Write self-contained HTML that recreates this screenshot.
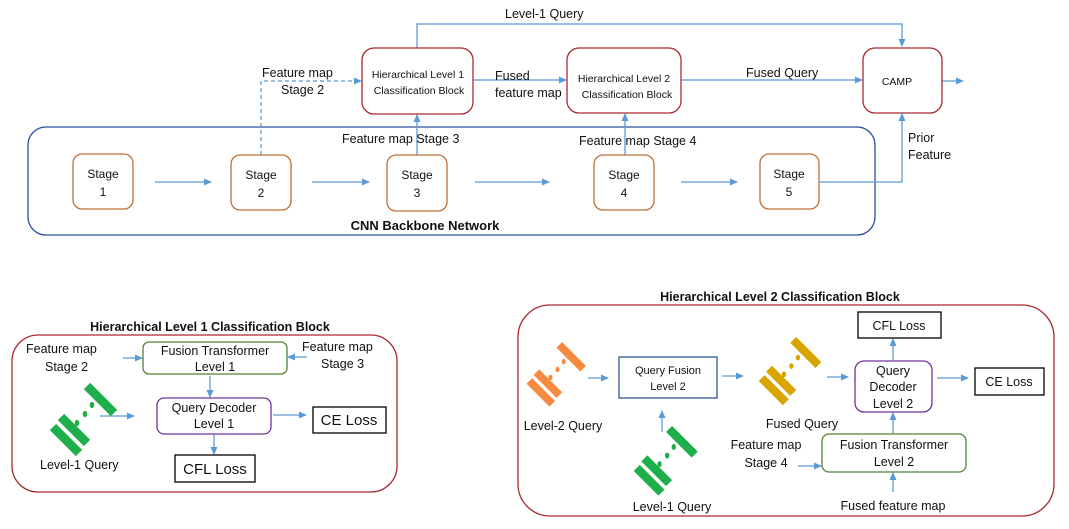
<!DOCTYPE html>
<html><head><meta charset="utf-8"><style>
html,body{margin:0;padding:0;background:#fff}
svg{display:block}
text{font-family:"Liberation Sans",sans-serif;fill:#111}
</style></head><body>
<svg width="1069" height="529" viewBox="0 0 1069 529" xmlns="http://www.w3.org/2000/svg">
<defs>
<marker id="a" markerWidth="8" markerHeight="8" refX="7" refY="4" orient="auto" markerUnits="userSpaceOnUse">
<path d="M0,0.5 L8,4 L0,7.5 z" fill="#5B9BD5"/></marker>
<g id="ic">
<line x1="39" y1="1" x2="66" y2="28" stroke-width="9"/>
<line x1="13" y1="32" x2="39" y2="58" stroke-width="9"/>
<line x1="5" y1="42" x2="31" y2="68" stroke-width="9"/>
<ellipse cx="44" cy="20" rx="1.8" ry="2.6"/>
<ellipse cx="37" cy="29" rx="1.8" ry="2.6"/>
<ellipse cx="29" cy="38" rx="1.8" ry="2.6"/>
</g>
</defs>
<g fill="#fff" stroke-width="1.3">
<rect x="28" y="127" width="847" height="108" rx="18" stroke="#2F4F9F"/>
<rect x="12" y="335" width="385" height="157" rx="26" stroke="#A52A32"/>
<rect x="518" y="305" width="536" height="211" rx="32" stroke="#A52A32"/>
</g>
<g fill="none" stroke="#5B9BD5" stroke-width="1.3">
<polyline points="417,48 417,24 902,24 902,46" marker-end="url(#a)"/>
<line x1="473" y1="80" x2="566" y2="80" marker-end="url(#a)"/>
<line x1="681" y1="80" x2="862" y2="80" marker-end="url(#a)"/>
<line x1="942" y1="81" x2="963" y2="81" marker-end="url(#a)"/>
<polyline points="261,155 261,81 361,81" stroke-dasharray="4,3" marker-end="url(#a)"/>
<line x1="417" y1="155" x2="417" y2="115" marker-end="url(#a)"/>
<line x1="625" y1="155" x2="625" y2="114" marker-end="url(#a)"/>
<polyline points="819,182 902,182 902,114" marker-end="url(#a)"/>
<line x1="155" y1="182" x2="211" y2="182" marker-end="url(#a)"/>
<line x1="312" y1="182" x2="369" y2="182" marker-end="url(#a)"/>
<line x1="475" y1="182" x2="549" y2="182" marker-end="url(#a)"/>
<line x1="681" y1="182" x2="737" y2="182" marker-end="url(#a)"/>
<line x1="123" y1="358" x2="142" y2="358" marker-end="url(#a)"/>
<line x1="307" y1="357" x2="288" y2="357" marker-end="url(#a)"/>
<line x1="210" y1="376" x2="210" y2="397" marker-end="url(#a)"/>
<line x1="100" y1="416" x2="134" y2="416" marker-end="url(#a)"/>
<line x1="273" y1="415" x2="306" y2="415" marker-end="url(#a)"/>
<line x1="214" y1="435" x2="214" y2="454" marker-end="url(#a)"/>
<line x1="588" y1="378" x2="608" y2="378" marker-end="url(#a)"/>
<line x1="722" y1="376" x2="743" y2="376" marker-end="url(#a)"/>
<line x1="827" y1="377" x2="848" y2="377" marker-end="url(#a)"/>
<line x1="937" y1="378" x2="968" y2="378" marker-end="url(#a)"/>
<line x1="893" y1="360" x2="893" y2="339" marker-end="url(#a)"/>
<line x1="893" y1="434" x2="893" y2="413" marker-end="url(#a)"/>
<line x1="893" y1="492" x2="893" y2="473" marker-end="url(#a)"/>
<line x1="798" y1="466" x2="821" y2="466" marker-end="url(#a)"/>
<line x1="662" y1="432" x2="662" y2="411" marker-end="url(#a)"/>
</g>
<g fill="#fff" stroke-width="1.3">
<rect x="362" y="48" width="111" height="66" rx="12" stroke="#A52A32"/>
<rect x="567" y="48" width="114" height="65" rx="12" stroke="#A52A32"/>
<rect x="863" y="48" width="79" height="65" rx="12" stroke="#A52A32"/>
<g stroke="#C07038">
<rect x="73" y="154" width="60" height="55" rx="9"/>
<rect x="231" y="155" width="60" height="55" rx="9"/>
<rect x="387" y="155" width="60" height="56" rx="9"/>
<rect x="594" y="155" width="60" height="55" rx="9"/>
<rect x="760" y="154" width="59" height="55" rx="9"/>
</g>
<rect x="143" y="342" width="144" height="32" rx="6" stroke="#548235"/>
<rect x="157" y="398" width="114" height="36" rx="7" stroke="#7030A0"/>
<rect x="313" y="407" width="73" height="26" stroke="#000"/>
<rect x="175" y="455" width="80" height="27" stroke="#000"/>
<rect x="619" y="357" width="98" height="41" stroke="#2F5597"/>
<rect x="855" y="361" width="77" height="51" rx="9" stroke="#7030A0"/>
<rect x="858" y="312" width="83" height="26" stroke="#000"/>
<rect x="975" y="368" width="69" height="27" stroke="#000"/>
<rect x="822" y="434" width="144" height="38" rx="7" stroke="#548235"/>
</g>
<use href="#ic" transform="translate(48,385)" stroke="#1FAF4A" fill="#1FAF4A"/>
<use href="#ic" transform="translate(525,344) scale(0.88)" stroke="#F58A40" fill="#F58A40"/>
<use href="#ic" transform="translate(757,339) scale(0.93)" stroke="#D9A400" fill="#D9A400"/>
<use href="#ic" transform="translate(632,428) scale(0.95)" stroke="#1FAF4A" fill="#1FAF4A"/>
<g font-size="12.5">
<text x="505" y="18">Level-1 Query</text>
<text x="262" y="77">Feature map</text>
<text x="281" y="94">Stage  2</text>
<text x="495" y="80">Fused</text>
<text x="495" y="97">feature map</text>
<text x="746" y="77">Fused Query</text>
<text x="342" y="143">Feature map Stage 3</text>
<text x="579" y="145">Feature map Stage  4</text>
<text x="908" y="142">Prior</text>
<text x="908" y="159">Feature</text>
</g>
<g font-size="12" text-anchor="middle">
<text x="103" y="178">Stage</text><text x="103" y="196">1</text>
<text x="261" y="179">Stage</text><text x="261" y="197">2</text>
<text x="417" y="179">Stage</text><text x="417" y="197">3</text>
<text x="624" y="179">Stage</text><text x="624" y="197">4</text>
<text x="789" y="178">Stage</text><text x="789" y="196">5</text>
</g>
<g font-size="10.5" text-anchor="middle">
<text x="418" y="78">Hierarchical Level 1</text>
<text x="419" y="94">Classification Block</text>
<text x="624" y="82">Hierarchical Level 2</text>
<text x="627" y="98">Classification Block</text>
<text x="897" y="85">CAMP</text>
</g>
<text x="425" y="230" font-size="13" font-weight="bold" text-anchor="middle">CNN Backbone Network</text>
<text x="210" y="331" font-size="12.5" font-weight="bold" text-anchor="middle">Hierarchical Level 1 Classification Block</text>
<g font-size="12.5">
<text x="26" y="353">Feature map</text>
<text x="45" y="371">Stage  2</text>
<text x="302" y="351">Feature map</text>
<text x="321" y="368">Stage  3</text>
<text x="40" y="469">Level-1 Query</text>
</g>
<g font-size="12.5" text-anchor="middle">
<text x="215" y="355">Fusion Transformer</text>
<text x="215" y="371">Level 1</text>
<text x="214" y="412">Query Decoder</text>
<text x="214" y="428">Level 1</text>
</g>
<text x="349" y="425" font-size="15" text-anchor="middle">CE Loss</text>
<text x="215" y="474" font-size="15" text-anchor="middle">CFL Loss</text>
<text x="780" y="301" font-size="12.5" font-weight="bold" text-anchor="middle">Hierarchical Level 2 Classification Block</text>
<g font-size="12.5" text-anchor="middle">
<text x="563" y="430">Level-2 Query</text>
<text x="802" y="428">Fused Query</text>
<text x="672" y="511">Level-1 Query</text>
<text x="766" y="449">Feature map</text>
<text x="766" y="467">Stage  4</text>
<text x="893" y="510">Fused feature map</text>
<text x="893" y="375">Query</text>
<text x="893" y="391">Decoder</text>
<text x="893" y="408">Level 2</text>
<text x="894" y="449">Fusion Transformer</text>
<text x="894" y="466">Level 2</text>
<text x="899" y="330">CFL  Loss</text>
<text x="1009" y="386">CE  Loss</text>
</g>
<g font-size="11" text-anchor="middle">
<text x="668" y="374">Query Fusion</text>
<text x="668" y="390">Level  2</text>
</g>
</svg>
</body></html>
